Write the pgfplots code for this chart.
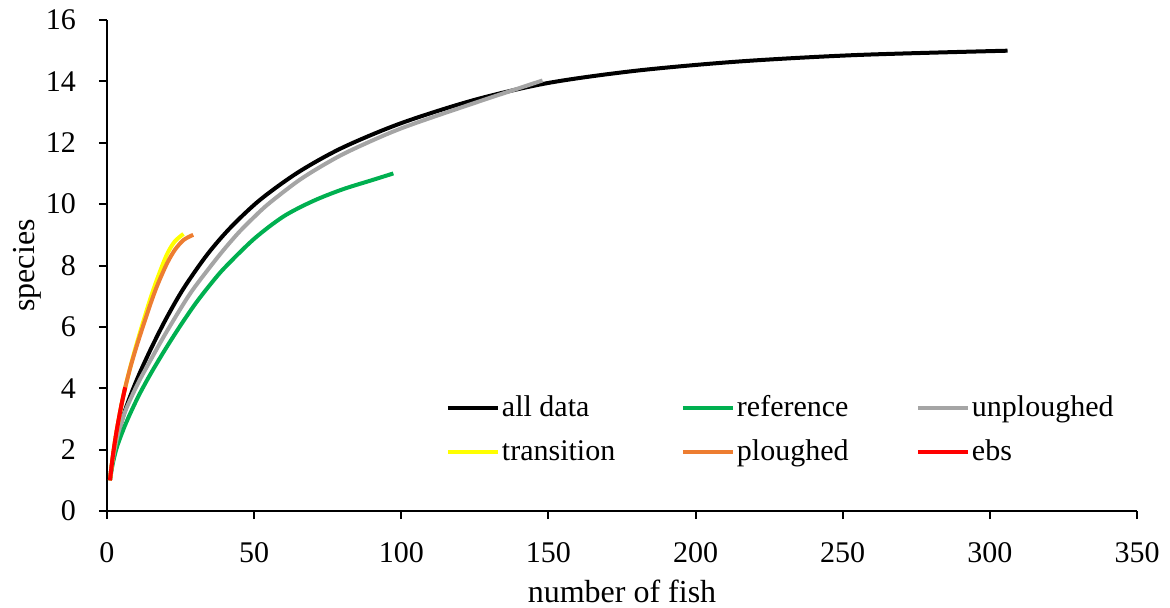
\documentclass[border=0pt]{standalone}
\usepackage{pgfplots}
\pgfplotsset{compat=1.18}
\usepackage{fontspec}
\setmainfont{Liberation Serif}
\definecolor{cgreen}{RGB}{0,176,80}
\definecolor{cgray}{RGB}{165,165,165}
\definecolor{cyellow}{RGB}{255,255,0}
\definecolor{corange}{RGB}{237,125,49}
\definecolor{cred}{RGB}{255,0,0}
\begin{document}
\begin{tikzpicture}
\begin{axis}[
  scale only axis,
  width=515pt, height=245.5pt,
  xmin=0, xmax=350, ymin=0, ymax=16,
  xtick={0,50,...,350}, ytick={0,2,...,16},
  axis x line*=bottom, axis y line*=left,
  axis line style={line width=1pt, -},
  tick style={line width=1pt, black},
  tick align=outside, major tick length=4pt,
  font=\fontsize{15}{18}\selectfont,
  /pgf/number format/assume math mode=true,
  xticklabel style={yshift=-8pt},
  yticklabel style={xshift=-8pt},
  xlabel={number of fish}, ylabel={species},
  label style={font=\fontsize{16}{19}\selectfont},
  xlabel style={yshift=-2pt},
  ylabel style={yshift=-4.5pt},
  legend columns=3,
  legend cell align=left,
  legend style={draw=none, fill=none, at={(axis cs:113,4.03)}, anchor=north west,
    font=\fontsize{15}{18}\selectfont, row sep=6pt, column sep=0pt,
    nodes={inner xsep=1pt}},
  legend image code/.code={\draw[#1] (0pt,0pt) -- (25pt,0pt);},
  every axis plot/.append style={line width=2pt, smooth, no markers},
]
\addplot[black] coordinates {(1,1)(1.5,1.4)(2,1.72)(3,2.2)(4,2.6)(6,3.24)(8,3.77)(11,4.47)(15,5.3)(20,6.25)(26,7.25)(34,8.35)(42,9.24)(52,10.14)(65,11.04)(80,11.84)(100,12.64)(125,13.4)(150,13.95)(180,14.35)(215,14.65)(255,14.86)(306,15.0)};
\addlegendentry{\makebox[88.5pt][l]{all data}}
\addplot[cgreen] coordinates {(1,1)(1.5,1.3)(2,1.56)(3,1.96)(4,2.26)(6,2.76)(8,3.2)(11,3.8)(15,4.5)(20,5.3)(25,6.05)(30,6.75)(35,7.37)(40,7.93)(50,8.87)(60,9.6)(70,10.1)(80,10.48)(90,10.78)(97.3,11.0)};
\addlegendentry{\makebox[88.5pt][l]{reference}}
\addplot[cgray] coordinates {(1,1)(1.5,1.38)(2,1.68)(3,2.2)(4,2.6)(6,3.2)(8,3.65)(11,4.25)(15,4.95)(20,5.8)(28,7.05)(35,7.95)(40,8.55)(45,9.1)(50,9.58)(55,10.02)(65,10.76)(74,11.3)(83,11.76)(100,12.47)(125,13.3)(148,14.03)};
\addlegendentry{unploughed}
\addplot[cyellow] coordinates {(1,1)(2,1.8)(3,2.45)(4,3.0)(5,3.5)(6,3.95)(8,4.72)(10,5.42)(12,6.07)(14.6,6.88)(17,7.55)(20.3,8.35)(23,8.78)(26,9.03)};
\addlegendentry{\makebox[88.5pt][l]{transition}}
\addplot[corange] coordinates {(1,1)(2,1.8)(3,2.45)(4,3.0)(5,3.5)(6,3.95)(8,4.7)(10,5.35)(12,5.95)(14.6,6.7)(17,7.33)(20.3,8.05)(23,8.5)(26,8.83)(29.3,9.0)};
\addlegendentry{\makebox[88.5pt][l]{ploughed}}
\addplot[cred] coordinates {(1,1)(2,1.8)(3,2.45)(4,3.0)(5,3.5)(6.2,4.03)};
\addlegendentry{ebs}
\end{axis}
\pgfresetboundingbox
\path[use as bounding box] (-53.5pt,-48pt) rectangle (531.5pt,255.5pt);
\end{tikzpicture}
\end{document}
